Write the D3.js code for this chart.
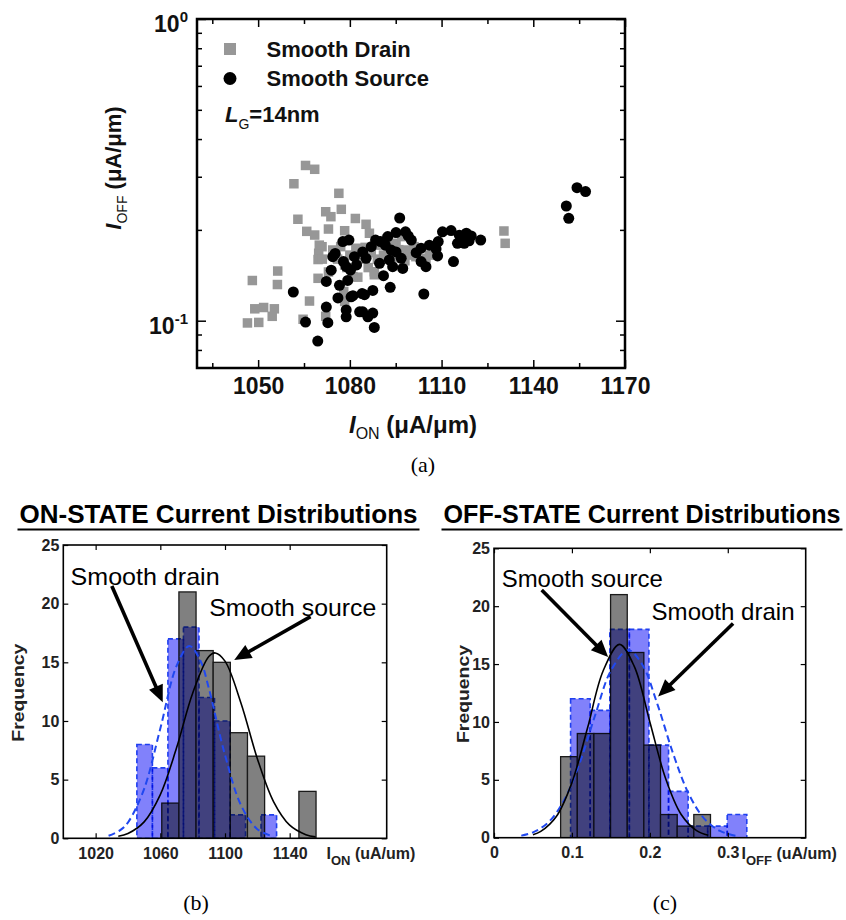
<!DOCTYPE html>
<html><head><meta charset="utf-8">
<script src="https://cdn.jsdelivr.net/npm/d3@7"></script>
<style>
body{margin:0;background:#fff;}
svg{display:block;font-family:"Liberation Sans",Arial,Helvetica,sans-serif;}
</style></head><body>
<svg id="fig" width="846" height="920"></svg>
<script>
// ---------------- DATA ----------------
// Panel (a): scatter, I_ON (uA/um) vs I_OFF (uA/um)
const sourceIon = [1150.8,1151.6,1154.3,1157.1,1122.8,1096.3,1092.4,1095.1,1098.2,1090.0,
  1100.1,1103.3,1110.3,1113.1,1108.9,1115.8,1118.1,1119.0,1115.2,1108.2,
  1087.0,1093.5,1095.1,1085.3,1089.7,1094.0,1097.3,1103.3,1104.9,1108.7,
  1113.9,1091.0,1093.2,1104.2,1084.8,1087.5,1084.2,1087.5,1085.9,1088.0,
  1061.5,1074.4,1073.9,1080.2,1079.3,1076.6,1076.1,1080.4,1072.3,1078.8,
  1078.8,1083.2,1065.5,1072.8,1069.5,1081.5,1079.7,1077.7,1075.2,1084.2,
  1072.3,1081.0,1084.0,1092.9,1117.4,1078.8,1088.4,1091.6,1099.1,1106.0,
  1119.7,1077.9,1082.2,1096.8,1101.7];
const sourceIoff = [0.240,0.2185,0.276,0.268,0.185,0.219,0.190,0.196,0.197,0.183,
  0.185,0.174,0.197,0.199,0.183,0.192,0.195,0.184,0.1805,0.173,
  0.176,0.1715,0.169,0.161,0.155,0.151,0.149,0.157,0.151,0.164,
  0.157,0.141,0.129,0.1226,0.122,0.126,0.107,0.106,0.103,0.095,
  0.1245,0.163,0.147,0.147,0.136,0.131,0.119,0.120,0.111,0.1085,
  0.103,0.107,0.099,0.0985,0.0856,0.163,0.185,0.183,0.167,0.169,
  0.135,0.121,0.123,0.159,0.1805,0.151,0.185,0.178,0.191,0.178,
  0.191,0.157,0.153,0.161,0.168];
const drainIon = [1065.5,1068.5,1061.7,1076.4,1077.2,1072.1,1073.8,1063.0,1081.8,1085.3,
  1073.0,1065.9,1068.5,1078.3,1070.9,1069.8,1069.6,1056.4,1048.1,1056.3,
  1066.8,1069.6,1048.9,1051.8,1055.3,1054.6,1046.5,1050.2,1064.7,1072.1,
  1082.6,1078.3,1130.4,1130.8,1074.4,1082.1,1088.0,1078.6,1101.6,1104.9,
  1098.4,1078.3,1086.4,1095.1,1091.9,
  1071,1073,1070,1077,1080,1082,1079,1081,1083,1076,1078,1085,1087,1089,
  1090,1086,1091,1092,1088,1094,1096,1098,1099,1101,1097,1095,1106];
const drainIoff = [0.327,0.3176,0.2844,0.2644,0.234,0.2297,0.2212,0.2169,0.2182,0.2087,
  0.2013,0.1978,0.1923,0.1987,0.1759,0.1673,0.1595,0.1461,0.1359,0.1318,
  0.1162,0.1382,0.1095,0.1106,0.1095,0.1034,0.0983,0.0987,0.1011,0.1034,
  0.1394,0.1158,0.1983,0.1805,0.1715,0.1738,0.1453,0.1201,0.163,0.1609,
  0.1715,0.153,0.1949,0.1805,0.163,
  0.160,0.145,0.178,0.176,0.165,0.172,0.150,0.140,0.160,0.160,0.125,0.175,0.168,0.160,
  0.178,0.150,0.165,0.186,0.142,0.180,0.172,0.158,0.165,0.176,0.190,0.162,0.165];
const ionDomainA = [1030, 1170];
const ioffDomainA = [0.0697, 1];
const ionTicksA = [1050, 1080, 1110, 1140, 1170];
const ionMinorA = [1035, 1065, 1095, 1125, 1155];
const ioffTicksA = [1, 0.1];
const ioffTickExp = ["0", "-1"];
const ioffMinorA = [0.08, 0.09, 0.2, 0.3, 0.4, 0.5, 0.6, 0.7, 0.8, 0.9];

// Panel (b): ON-state histograms
const onSrcEdges = [1060.9,1071.5,1082.1,1092.7,1103.3,1113.9,1124.5,1135.1,1145.7,1156.3];
const onSrcCounts = [3,21,16,15,9,7,0,0,4];
const onDrainEdges = [1045.5,1055.1,1064.7,1074.3,1083.9,1093.5,1103.1,1112.7,1122.3,1131.9];
const onDrainCounts = [8,6,17,18,12,10,2,0,2];
const onSrcCurveX = [1034,1040,1050,1060,1070,1080,1090,1094,1100,1110,1120,1130,1140,1150,1156];
const onSrcCurveY = [0.18,0.41,1.40,3.72,7.69,12.37,15.49,15.8,15.1,11.47,6.79,3.13,1.12,0.31,0.12];
const onDrainCurveX = [1028,1035,1040,1050,1060,1070,1078,1085,1090,1100,1110,1120,1130];
const onDrainCurveY = [0.22,0.67,1.35,4.22,9.36,14.68,16.4,15.07,12.78,7.10,2.79,0.78,0.15];
const onXTicks = [1020, 1060, 1100, 1140];
const freqTicks = [0, 5, 10, 15, 20, 25];

// Panel (c): OFF-state histograms
const offSrcEdges = [0.0855,0.1069,0.1282,0.1496,0.1710,0.1923,0.2137,0.2351,0.2564,0.2778];
const offSrcCounts = [7,9,9,21,16,8,2,1,2];
const offDrainEdges = [0.0983,0.1234,0.1486,0.1737,0.1988,0.2240,0.2491,0.2742,0.2993,0.3244];
const offDrainCounts = [12,11,18,18,8,4,1,1,2];
const offSrcCurveX = [0.05,0.06,0.08,0.10,0.12,0.14,0.161,0.18,0.20,0.22,0.24,0.26,0.275];
const offSrcCurveY = [0.26,0.54,1.83,4.76,9.47,14.4,16.7,14.8,10.0,5.16,2.03,0.61,0.21];
const offDrainCurveX = [0.035,0.05,0.07,0.09,0.11,0.13,0.15,0.172,0.19,0.21,0.23,0.25,0.27,0.29,0.31];
const offDrainCurveY = [0.18,0.46,1.34,3.24,6.46,10.62,14.43,16.2,14.99,11.47,7.24,3.77,1.63,0.58,0.17];
const offXTicks = [0, 0.1, 0.2, 0.3];

// Annotations (data units of each panel)
const onNotes = [
  {text: "Smooth drain", x: 1004.5, y: 22.3, w: 149, from: [1030, 21.5], to: [1061.5, 11.6]},
  {text: "Smooth source", x: 1090.3, y: 19.7, w: 167, from: [1152.9, 18.9], to: [1105.7, 15.2]}
];
const offNotes = [
  {text: "Smooth source", x: 0.0099, y: 22.4, w: 161, from: [0.0612, 21.4], to: [0.1465, 15.6]},
  {text: "Smooth drain", x: 0.2022, y: 19.5, w: 143, from: [0.3068, 18.5], to: [0.2106, 12.2]}
];

// ---------------- DRAWING ----------------
const svg = d3.select("#fig");
svg.append("rect").attr("width", 846).attr("height", 920).attr("fill", "#fff");
const FONT = '"Liberation Sans",Arial,Helvetica,sans-serif';

function styleAxis(g, size, weight, fill) {
  g.attr("font-family", FONT);
  g.select(".domain").remove();
  g.selectAll("line").attr("stroke", "#000").attr("stroke-width", 1.5);
  g.selectAll("text").attr("font-size", size).attr("font-weight", weight).attr("fill", fill).attr("font-family", FONT);
}

// ===== Panel (a) =====
(function(){
  const L = 197, R = 625, T = 19, B = 368;
  const x = d3.scaleLinear().domain(ionDomainA).range([L, R]);
  const y = d3.scaleLog().domain(ioffDomainA).range([B, T]);
  const g = svg.append("g");
  g.append("clipPath").attr("id", "clipA").append("rect").attr("x", L).attr("y", T).attr("width", R - L).attr("height", B - T);
  const p = g.append("g").attr("clip-path", "url(#clipA)");
  const sq = 9.5;
  p.append("g").selectAll("rect").data(d3.zip(drainIon, drainIoff)).join("rect")
    .attr("x", d => x(d[0]) - sq / 2).attr("y", d => y(d[1]) - sq / 2)
    .attr("width", sq).attr("height", sq).attr("fill", "#979797");
  p.append("g").selectAll("circle").data(d3.zip(sourceIon, sourceIoff)).join("circle")
    .attr("cx", d => x(d[0])).attr("cy", d => y(d[1])).attr("r", 5.5).attr("fill", "#000");

  // axes (inward ticks)
  const ab = g.append("g").attr("transform", `translate(0,${B})`)
    .call(d3.axisBottom(x).tickValues(ionTicksA).tickSize(-8).tickPadding(10).tickFormat(d3.format("d")));
  styleAxis(ab, 23, "bold", "#111");
  styleAxis(g.append("g").attr("transform", `translate(0,${B})`)
    .call(d3.axisBottom(x).tickValues(ionMinorA).tickSize(-5).tickFormat("")), 10, "normal", "#000");
  styleAxis(g.append("g").attr("transform", `translate(0,${T})`)
    .call(d3.axisTop(x).tickValues(ionTicksA).tickSize(-8).tickFormat("")), 10, "normal", "#000");
  styleAxis(g.append("g").attr("transform", `translate(0,${T})`)
    .call(d3.axisTop(x).tickValues(ionMinorA).tickSize(-5).tickFormat("")), 10, "normal", "#000");
  styleAxis(g.append("g").attr("transform", `translate(${L},0)`)
    .call(d3.axisLeft(y).tickValues(ioffTicksA).tickSize(-9).tickFormat("")), 10, "normal", "#000");
  styleAxis(g.append("g").attr("transform", `translate(${L},0)`)
    .call(d3.axisLeft(y).tickValues(ioffMinorA).tickSize(-5).tickFormat("")), 10, "normal", "#000");
  styleAxis(g.append("g").attr("transform", `translate(${R},0)`)
    .call(d3.axisRight(y).tickValues(ioffTicksA).tickSize(-9).tickFormat("")), 10, "normal", "#000");
  styleAxis(g.append("g").attr("transform", `translate(${R},0)`)
    .call(d3.axisRight(y).tickValues(ioffMinorA).tickSize(-5).tickFormat("")), 10, "normal", "#000");

  // y tick labels 10^n
  ioffTicksA.forEach((v, i) => {
    const t = g.append("text").attr("x", 188).attr("y", y(v) + 13).attr("text-anchor", "end")
      .attr("font-family", FONT).attr("font-weight", "bold").attr("font-size", 23).attr("fill", "#111");
    t.append("tspan").text("10");
    t.append("tspan").attr("dy", -10).attr("font-size", 15).text(ioffTickExp[i]);
  });

  g.append("rect").attr("x", L).attr("y", T).attr("width", R - L).attr("height", B - T)
    .attr("fill", "none").attr("stroke", "#000").attr("stroke-width", 2.5);

  // legend
  g.append("rect").attr("x", 224).attr("y", 43).attr("width", 12).attr("height", 12).attr("fill", "#979797");
  g.append("circle").attr("cx", 230).attr("cy", 78.5).attr("r", 6.5).attr("fill", "#000");
  g.append("text").attr("x", 266.5).attr("y", 57).text("Smooth Drain")
    .attr("font-family", FONT).attr("font-weight", "bold").attr("font-size", 22).attr("fill", "#111");
  g.append("text").attr("x", 266.5).attr("y", 86).text("Smooth Source")
    .attr("font-family", FONT).attr("font-weight", "bold").attr("font-size", 22).attr("fill", "#111");
  const lg = g.append("text").attr("x", 225).attr("y", 121.5)
    .attr("font-family", FONT).attr("font-weight", "bold").attr("font-size", 22).attr("fill", "#111");
  lg.append("tspan").attr("font-style", "italic").text("L");
  lg.append("tspan").attr("dy", 7).attr("font-size", 14).attr("font-weight", "normal").text("G");
  lg.append("tspan").attr("dy", -7).text("=14nm");

  // axis titles
  const xt = g.append("text").attr("x", 413).attr("y", 433).attr("text-anchor", "middle")
    .attr("font-family", FONT).attr("font-weight", "bold").attr("font-size", 24).attr("fill", "#111");
  xt.append("tspan").attr("font-style", "italic").text("I");
  xt.append("tspan").attr("dy", 6).attr("font-size", 16).attr("font-weight", "normal").text("ON");
  xt.append("tspan").attr("dy", -6).text(" (\u03bcA/\u03bcm)");

  const yt = g.append("text").attr("transform", "translate(121,168) rotate(-90)").attr("text-anchor", "middle")
    .attr("font-family", FONT).attr("font-weight", "bold").attr("font-size", 22).attr("fill", "#111");
  yt.append("tspan").attr("font-style", "italic").text("I");
  yt.append("tspan").attr("dy", 6).attr("font-size", 14).attr("font-weight", "normal").text("OFF");
  yt.append("tspan").attr("dy", -6).text(" (\u03bcA/\u03bcm)");

  svg.append("text").attr("x", 423).attr("y", 472).attr("text-anchor", "middle")
    .attr("font-family", '"Liberation Serif","Times New Roman",serif').attr("font-size", 22).text("(a)");
})();

// ===== Histogram panels =====
function histPanel(o) {
  const x = d3.scaleLinear().domain(o.xDomain).range([o.L, o.R]);
  const y = d3.scaleLinear().domain([0, 25]).range([o.B, o.T]);
  const g = svg.append("g");
  g.append("clipPath").attr("id", o.id).append("rect").attr("x", o.L).attr("y", o.T).attr("width", o.R - o.L).attr("height", o.B - o.T);
  const p = g.append("g").attr("clip-path", `url(#${o.id})`);
  const bins = (edges, counts) => counts.map((c, i) => ({c, x0: edges[i], x1: edges[i + 1]})).filter(d => d.c > 0);

  p.append("g").selectAll("rect").data(bins(o.srcEdges, o.srcCounts)).join("rect")
    .attr("x", d => x(d.x0)).attr("width", d => x(d.x1) - x(d.x0))
    .attr("y", d => y(d.c)).attr("height", d => y(0) - y(d.c))
    .attr("fill", "#808080").attr("stroke", "#1a1a1a").attr("stroke-width", 1.3);
  p.append("g").selectAll("rect").data(bins(o.drEdges, o.drCounts)).join("rect")
    .attr("x", d => x(d.x0)).attr("width", d => x(d.x1) - x(d.x0))
    .attr("y", d => y(d.c)).attr("height", d => y(0) - y(d.c))
    .attr("fill", "#8181fb").attr("stroke", "#1f3ff0").attr("stroke-width", 1.6)
    .attr("stroke-dasharray", "5,3").style("mix-blend-mode", "multiply");

  const line = d3.line().x(d => x(d[0])).y(d => y(d[1])).curve(d3.curveCatmullRom.alpha(0.5));
  p.append("path").attr("d", line(d3.zip(o.drCurveX, o.drCurveY))).attr("fill", "none")
    .attr("stroke", "#2048f0").attr("stroke-width", 2).attr("stroke-dasharray", "7,4");
  p.append("path").attr("d", line(d3.zip(o.srcCurveX, o.srcCurveY))).attr("fill", "none")
    .attr("stroke", "#000").attr("stroke-width", 1.6);

  // axes
  const ab = g.append("g").attr("transform", `translate(0,${o.B})`)
    .call(d3.axisBottom(x).tickValues(o.xTicks).tickSize(-5).tickPadding(9).tickFormat(o.fmt));
  styleAxis(ab, 16, "bold", "#222");
  styleAxis(g.append("g").attr("transform", `translate(0,${o.T})`)
    .call(d3.axisTop(x).tickValues(o.xTicks).tickSize(-5).tickFormat("")), 10, "normal", "#000");
  const al = g.append("g").attr("transform", `translate(${o.L},0)`)
    .call(d3.axisLeft(y).tickValues(freqTicks).tickSize(-5).tickPadding(4));
  styleAxis(al, 16, "bold", "#222");
  styleAxis(g.append("g").attr("transform", `translate(${o.R},0)`)
    .call(d3.axisRight(y).tickValues(freqTicks).tickSize(-5).tickFormat("")), 10, "normal", "#000");
  g.selectAll("line").attr("stroke-width", 1.2);

  g.append("rect").attr("x", o.L).attr("y", o.T).attr("width", o.R - o.L).attr("height", o.B - o.T)
    .attr("fill", "none").attr("stroke", "#000").attr("stroke-width", 1.6);

  // x label
  const xl = g.append("text").attr("x", o.xlabX).attr("y", o.B + 21)
    .attr("font-family", FONT).attr("font-weight", "bold").attr("font-size", 16).attr("fill", "#222");
  xl.append("tspan").text("I");
  xl.append("tspan").attr("dy", 6).attr("font-size", 13).text(o.sub);
  xl.append("tspan").attr("dy", -6).text(" (uA/um)");

  g.append("text").attr("transform", `translate(${o.freqX},${(o.T + o.B) / 2 + 1}) rotate(-90)`)
    .attr("text-anchor", "middle").attr("font-family", FONT).attr("font-weight", "bold")
    .attr("font-size", 16).attr("textLength", 98).attr("lengthAdjust", "spacingAndGlyphs")
    .attr("fill", "#222").text("Frequency");

  // title
  g.append("text").attr("x", o.titleX).attr("y", 523).attr("font-family", FONT).attr("font-weight", "bold")
    .attr("font-size", 25).attr("textLength", o.titleW).attr("lengthAdjust", "spacingAndGlyphs")
    .attr("fill", "#000").text(o.title);
  g.append("line").attr("x1", o.titleX - 2).attr("x2", o.titleX + o.titleW + 2).attr("y1", 529.5).attr("y2", 529.5)
    .attr("stroke", "#000").attr("stroke-width", 2.2);

  // annotations
  o.notes.forEach(n => {
    g.append("text").attr("x", x(n.x)).attr("y", y(n.y) + 8.5).attr("font-family", FONT)
      .attr("font-size", 24).attr("textLength", n.w).attr("lengthAdjust", "spacingAndGlyphs")
      .attr("fill", "#000").text(n.text);
    const x1 = x(n.from[0]), y1 = y(n.from[1]), x2 = x(n.to[0]), y2 = y(n.to[1]);
    const len = Math.hypot(x2 - x1, y2 - y1), ux = (x2 - x1) / len, uy = (y2 - y1) / len;
    const Lh = 17, W = 7.5;
    g.append("line").attr("x1", x1).attr("y1", y1).attr("x2", x2 - ux * (Lh - 2)).attr("y2", y2 - uy * (Lh - 2))
      .attr("stroke", "#000").attr("stroke-width", 3.6);
    const bx = x2 - ux * Lh, by = y2 - uy * Lh;
    g.append("path").attr("d", `M${x2},${y2}L${bx - uy * W},${by + ux * W}L${bx + uy * W},${by - ux * W}Z`).attr("fill", "#000");
  });

  svg.append("text").attr("x", o.tagX).attr("y", 910).attr("text-anchor", "middle")
    .attr("font-family", '"Liberation Serif","Times New Roman",serif').attr("font-size", 22).text(o.tag);
}

histPanel({id: "clipB", L: 63.3, R: 386.7, T: 545, B: 838.3, xDomain: [1000, 1200],
  srcEdges: onSrcEdges, srcCounts: onSrcCounts, drEdges: onDrainEdges, drCounts: onDrainCounts,
  srcCurveX: onSrcCurveX, srcCurveY: onSrcCurveY, drCurveX: onDrainCurveX, drCurveY: onDrainCurveY,
  xTicks: onXTicks, fmt: d3.format("d"), xlabX: 326.5, sub: "ON", freqX: 24,
  title: "ON-STATE Current Distributions", titleX: 19.5, titleW: 398, notes: onNotes, tag: "(b)", tagX: 196});

histPanel({id: "clipC", L: 494, R: 805.7, T: 548.3, B: 837.7, xDomain: [0, 0.4],
  srcEdges: offSrcEdges, srcCounts: offSrcCounts, drEdges: offDrainEdges, drCounts: offDrainCounts,
  srcCurveX: offSrcCurveX, srcCurveY: offSrcCurveY, drCurveX: offDrainCurveX, drCurveY: offDrainCurveY,
  xTicks: offXTicks, fmt: d => d === 0 ? "0" : d3.format(".1f")(d), xlabX: 741.5, sub: "OFF", freqX: 469,
  title: "OFF-STATE Current Distributions", titleX: 443.5, titleW: 397, notes: offNotes, tag: "(c)", tagX: 665});
</script>
</body></html>
